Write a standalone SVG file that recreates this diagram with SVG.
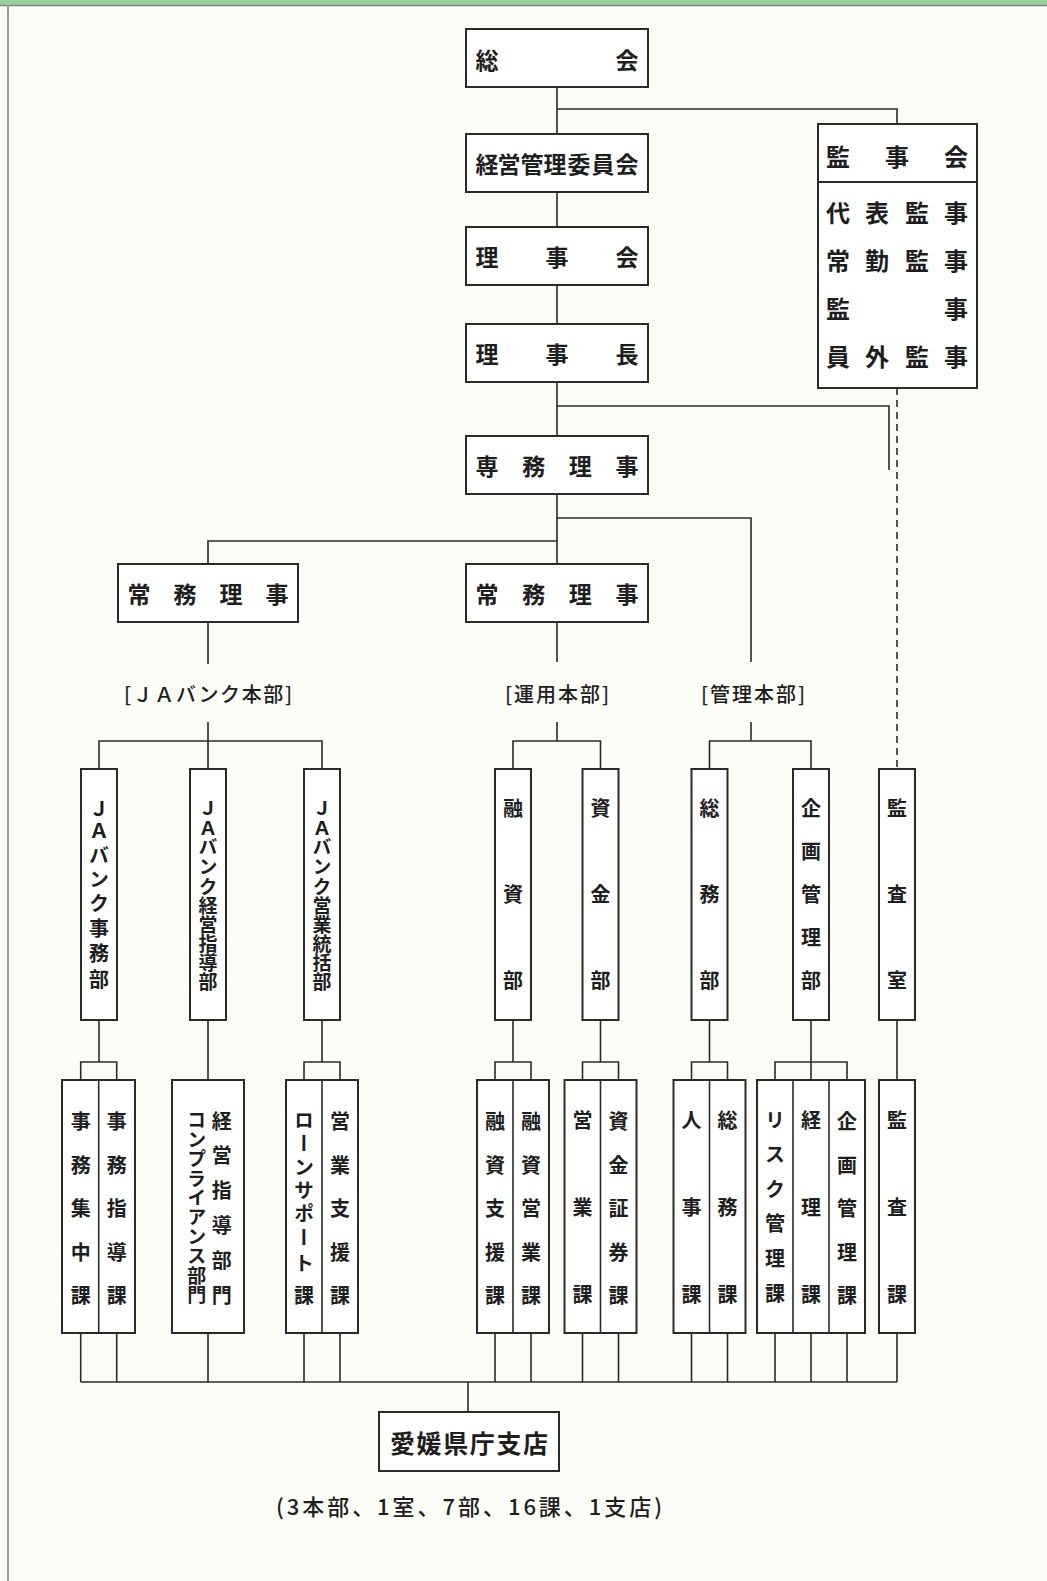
<svg xmlns="http://www.w3.org/2000/svg" width="1047" height="1581" viewBox="0 0 1047 1581">
<style>
.bg{fill:#fcfdf6}
.box{fill:#ffffff;stroke:#2a2a2a;stroke-width:2}
.ln{fill:none;stroke:#2a2a2a;stroke-width:1.6}
.dash{fill:none;stroke:#2a2a2a;stroke-width:1.6;stroke-dasharray:7 5}
text{font-family:"Noto Sans CJK JP","Noto Sans CJK SC",sans-serif;fill:#1e1e1e;font-weight:700}
.h{text-anchor:middle;dominant-baseline:central}
.t23{font-size:23px}
.t24{font-size:24px}
.v{writing-mode:vertical-rl;text-anchor:middle;font-size:20px}
.v19{writing-mode:vertical-rl;text-anchor:middle;font-size:19px}
.lab{font-size:20px;font-weight:500}
</style>
<rect class="bg" x="0" y="0" width="1047" height="1581"/>
<rect x="0" y="0" width="1047" height="5" fill="#9ccf9f"/>
<line x1="0" y1="5.5" x2="1047" y2="5.5" stroke="#6f8a74" stroke-width="1.5"/>
<line x1="8" y1="5" x2="8" y2="1581" stroke="#8fa398" stroke-width="2"/>

<g id="connectors">
<path class="ln" d="M557 87V134M557 109H897V124M557 192V227M557 285V324M557 382V436M557 406H889V470M557 494V564M557 518H751V662M557 541H208V564M208 622V664M557 622V662"/>
<path class="dash" d="M897 388V769"/>
<path class="ln" d="M208 722V769M99 769V741H322V769M557 722V741M513 769V741H600.5V769M751 722V741M709.5 769V741H811V769"/>
<path class="ln" d="M99 1020V1062M80.7 1080V1062H116.7V1080M208 1020V1080M322 1020V1062M304 1080V1062H340V1080M513 1020V1062M495 1080V1062H531V1080M600.5 1020V1062M582.5 1080V1062H618.5V1080M709.5 1020V1062M691.5 1080V1062H727.5V1080M811 1020V1080M775 1080V1062H847V1080M897 1020V1080"/>
<path class="ln" d="M80.7 1333V1382M116.7 1333V1382M208 1333V1382M304 1333V1382M340 1333V1382M495 1333V1382M531 1333V1382M582.5 1333V1382M618.5 1333V1382M691.5 1333V1382M727.5 1333V1382M775 1333V1382M811 1333V1382M847 1333V1382M897 1333V1382M80.7 1382H897M468 1382V1412"/>
</g>

<g id="n-soukai"><rect class="box" x="466" y="29" width="182" height="58"/><text class="h t23" x="487 627" y="59">総会</text></g>
<g id="n-keiei"><rect class="box" x="466" y="134" width="182" height="58"/><text class="h t23" x="487 509 532 555 579 603 627" y="163">経営管理委員会</text></g>
<g id="n-rijikai"><rect class="box" x="466" y="227" width="182" height="58"/><text class="h t23" x="487 557 627" y="256">理事会</text></g>
<g id="n-rijicho"><rect class="box" x="466" y="324" width="182" height="58"/><text class="h t23" x="487 557 627" y="353">理事長</text></g>
<g id="n-kanjikai"><rect class="box" x="818" y="124" width="159" height="264"/><line class="ln" x1="818" y1="182" x2="977" y2="182" style="stroke-width:2"/>
<text class="h t24" x="838 897 956" y="155">監事会</text>
<text class="h t24" x="838 877 917 956" y="211">代表監事</text>
<text class="h t24" x="838 877 917 956" y="259">常勤監事</text>
<text class="h t24" x="838 956" y="307">監事</text>
<text class="h t24" x="838 877 917 956" y="355">員外監事</text></g>
<g id="n-senmu"><rect class="box" x="466" y="436" width="182" height="58"/><text class="h t23" x="487 533.7 580.3 627" y="465">専務理事</text></g>
<g id="n-jomu1"><rect class="box" x="118" y="564" width="180" height="58"/><text class="h t23" x="139 185 231 277" y="593">常務理事</text></g>
<g id="n-jomu2"><rect class="box" x="466" y="564" width="182" height="58"/><text class="h t23" x="487 533.7 580.3 627" y="593">常務理事</text></g>

<g id="l-ja"><text class="h lab" x="208" y="693" textLength="168" lengthAdjust="spacing">[ＪＡバンク本部]</text></g>
<g id="l-unyo"><text class="h lab" x="557" y="693" textLength="104" lengthAdjust="spacing">[運用本部]</text></g>
<g id="l-kanri"><text class="h lab" x="753" y="693" textLength="104" lengthAdjust="spacing">[管理本部]</text></g>

<g id="d-jimu"><rect class="box" x="81" y="769" width="36" height="251"/><text class="v" x="99" y="809 831 855 879 903 928 953 979">ＪＡバンク事務部</text></g>
<g id="d-shido"><rect class="box" x="190" y="769" width="36" height="251"/><text class="v19" x="208" y="808 828 847 867 887 906 925 944 963 982">ＪＡバンク経営指導部</text></g>
<g id="d-eigyo"><rect class="box" x="304" y="769" width="36" height="251"/><text class="v19" x="322" y="808 828 847 867 887 906 925 944 963 982">ＪＡバンク営業統括部</text></g>
<g id="d-yushi"><rect class="box" x="495" y="769" width="36" height="251"/><text class="v" x="513" y="808 894 980">融資部</text></g>
<g id="d-shikin"><rect class="box" x="582.5" y="769" width="36" height="251"/><text class="v" x="600.5" y="808 894 980">資金部</text></g>
<g id="d-somu"><rect class="box" x="691.5" y="769" width="36" height="251"/><text class="v" x="709.5" y="808 894 980">総務部</text></g>
<g id="d-kikaku"><rect class="box" x="793" y="769" width="36" height="251"/><text class="v" x="811" y="808 851 894 937 980">企画管理部</text></g>
<g id="d-kansa"><rect class="box" x="879" y="769" width="36" height="251"/><text class="v" x="897" y="808 894 980">監査室</text></g>

<g id="s-jimu"><rect class="box" x="62" y="1080" width="73" height="253"/><line class="ln" x1="98.7" y1="1080" x2="98.7" y2="1333"/>
<text class="v" x="80.7" y="1121 1165 1208 1252 1295">事務集中課</text>
<text class="v" x="116.7" y="1121 1165 1208 1252 1295">事務指導課</text></g>
<g id="s-shido"><rect class="box" x="172" y="1080" width="72" height="253"/>
<text class="v" x="221.7" y="1121 1155.8 1190.6 1225.4 1260.2 1295">経営指導部門</text>
<text class="v19" x="196.7" y="1120 1139.4 1158.9 1178.3 1197.8 1217.2 1236.7 1256.1 1275.6 1295">コンプライアンス部門</text></g>
<g id="s-eigyo"><rect class="box" x="286" y="1080" width="72" height="253"/><line class="ln" x1="322" y1="1080" x2="322" y2="1333"/>
<text class="v" x="304" y="1120 1143 1167 1190 1213 1237 1263 1295">ローンサポート課</text>
<text class="v" x="340" y="1121 1165 1208 1252 1295">営業支援課</text></g>
<g id="s-yushi"><rect class="box" x="477" y="1080" width="72" height="253"/><line class="ln" x1="513" y1="1080" x2="513" y2="1333"/>
<text class="v" x="495" y="1121 1165 1208 1252 1295">融資支援課</text>
<text class="v" x="531" y="1121 1165 1208 1252 1295">融資営業課</text></g>
<g id="s-shikin"><rect class="box" x="564.5" y="1080" width="72" height="253"/><line class="ln" x1="600.5" y1="1080" x2="600.5" y2="1333"/>
<text class="v" x="582.5" y="1120 1207 1294">営業課</text>
<text class="v" x="618.5" y="1121 1165 1208 1252 1295">資金証券課</text></g>
<g id="s-somu"><rect class="box" x="673.5" y="1080" width="72" height="253"/><line class="ln" x1="709.5" y1="1080" x2="709.5" y2="1333"/>
<text class="v" x="691.5" y="1120 1207 1294">人事課</text>
<text class="v" x="727.5" y="1120 1207 1294">総務課</text></g>
<g id="s-kikaku"><rect class="box" x="757" y="1080" width="108" height="253"/><line class="ln" x1="793" y1="1080" x2="793" y2="1333"/><line class="ln" x1="829" y1="1080" x2="829" y2="1333"/>
<text class="v" x="775" y="1120 1154.6 1189.2 1223.8 1258.4 1293">リスク管理課</text>
<text class="v" x="811" y="1120 1207 1294">経理課</text>
<text class="v" x="847" y="1121 1165 1208 1252 1295">企画管理課</text></g>
<g id="s-kansa"><rect class="box" x="879" y="1080" width="36" height="253"/><text class="v" x="897" y="1120 1207 1294">監査課</text></g>

<g id="n-shiten"><rect class="box" x="379" y="1412" width="180" height="59"/><text class="h" x="469" y="1442" style="font-size:25px" textLength="158" lengthAdjust="spacing">愛媛県庁支店</text></g>
<text class="h" x="469" y="1505" style="font-size:22px;font-weight:500" textLength="386" lengthAdjust="spacing">(3本部、1室、7部、16課、1支店)</text>
</svg>
